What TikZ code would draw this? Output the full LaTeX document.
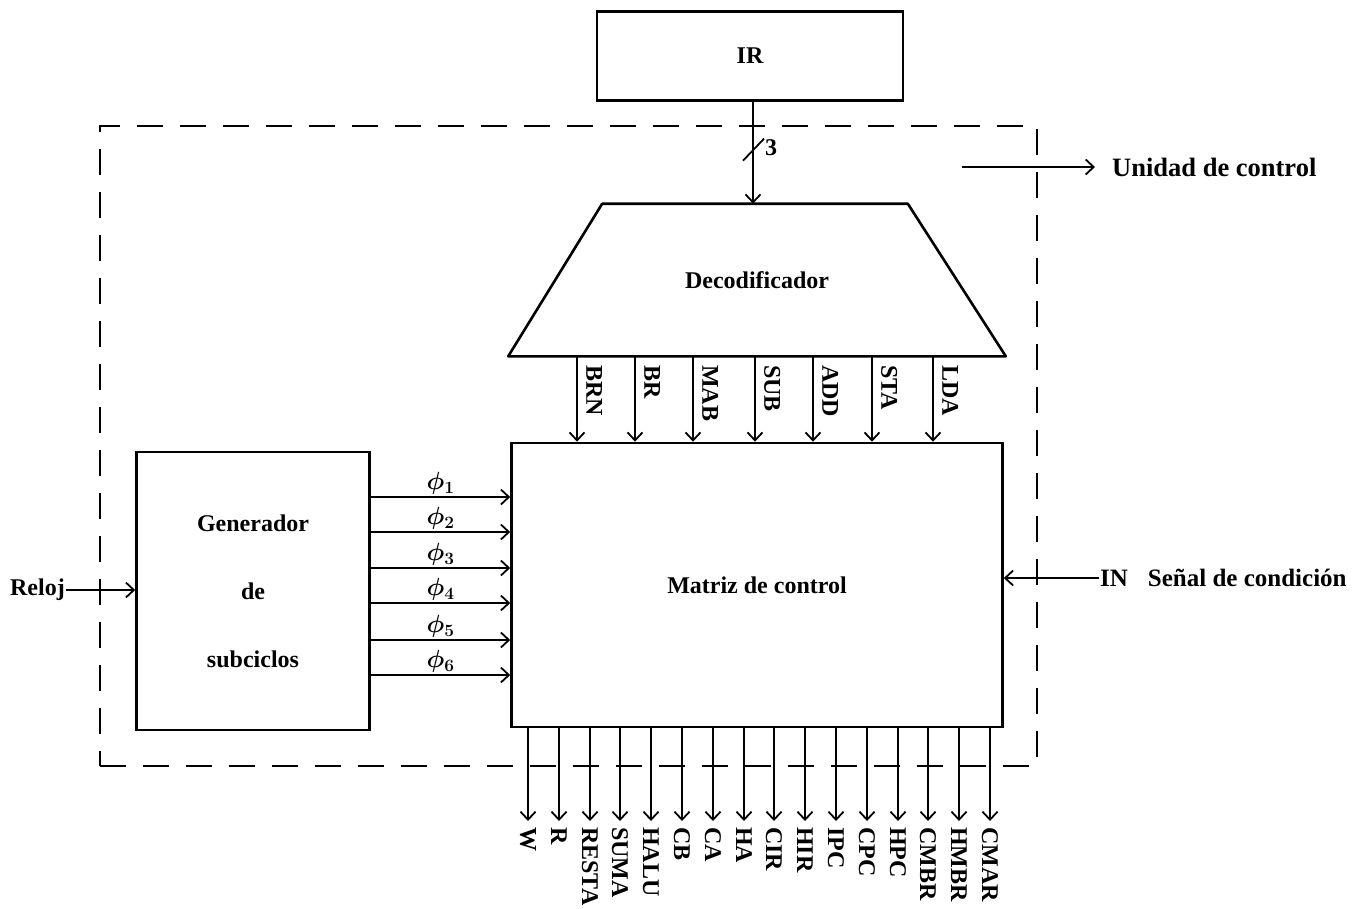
\documentclass[tikz,border=0pt]{standalone}
\usepackage{fontspec}
\setmainfont{Liberation Serif}
\usetikzlibrary{positioning, arrows.meta, shapes.geometric}

\begin{document}
\begin{tikzpicture}[x=1pt, y=-1pt,
    box/.style={rectangle, draw=black, line width=2.6pt, align=center,
        font=\bfseries\fontsize{24}{28}\selectfont},
    lab/.style={font=\bfseries\boldmath\fontsize{24}{28}\selectfont, inner sep=1pt},
    arrow/.style={-{Straight Barb[length=8pt, width=15pt]}, line width=1.8pt},
    border/.style={draw=black, line width=2pt, dash pattern=on 26pt off 17pt}]
\useasboundingbox (0,0) rectangle (1354,908);
\node[border, minimum width=937pt, minimum height=640pt] (cu) at (568,446) {};
\node[box, minimum width=306pt, minimum height=89pt] (ir) at (750,56) {IR};
\node[box, draw=none, minimum width=495pt, minimum height=150pt] (dec) at (757,280) {Decodificador};
\draw[line width=2.6pt, line join=round] (dec.south west) -- (dec.south east)
    -- ([xshift=-98pt]dec.north east) -- ([xshift=94pt]dec.north west) -- cycle;
\node[box, minimum width=491pt, minimum height=284pt] (mat) at (757,585) {Matriz de control};
\node[box, minimum width=233pt, minimum height=278pt] (gen) at (253,591) {Generador\\[40pt]de\\[40pt]subciclos};
% bus from IR
\draw[arrow] (ir.south -| 753,0) -- coordinate[pos=0.47] (bus) (dec.north -| 753,0);
\draw[line width=1.8pt] (bus) ++(-10,11) -- ++(21,-22);
\node[lab, anchor=west] (width) at ([xshift=11pt, yshift=2pt]bus) {3};
\node[lab, font=\bfseries\fontsize{26.5}{30}\selectfont, anchor=west] (ucl) at (1111,167) {Unidad de control};
\coordinate (ucs) at (962,167);
\draw[arrow] (ucs) -- ([xshift=-16pt]ucl.west);
% decoder outputs
\foreach \x/\sig in {577/BRN, 635/BR, 693/MAB, 755/SUB, 813/ADD, 872/STA, 933/LDA} {
  \draw[arrow] (dec.south -| \x,0) -- (mat.north -| \x,0);
  \node[lab, rotate=-90, anchor=south west] (d-\sig) at (\x+8,364) {\sig};
}
% subcycles
\foreach \y [count=\i] in {497,532,568,603,640,675} {
  \draw[arrow] (gen.east |- 0,\y) -- node[lab, above=1pt] (phi\i) {$\phi_{\i}$} (mat.west |- 0,\y);
}
\node[lab, anchor=east] (clk) at (66,590) {Reloj};
\draw[arrow] (clk.east) -- (gen.west |- clk.east);
\node[lab, font=\bfseries\fontsize{25}{29}\selectfont, anchor=west] (cond) at (1099,578) {IN\hspace{0.8em}Señal de condición};
\draw[arrow] (cond.west) -- (mat.east |- cond.west);
% control signals
\foreach \sig [count=\i from 0] in {W, R, RESTA, SUMA, HALU, CB, CA, HA, CIR, HIR, IPC, CPC, HPC, CMBR, HMBR, CMAR} {
  \pgfmathsetmacro{\xo}{round(528+30.8*\i)}
  \node[lab, rotate=-90, anchor=west] (o-\sig) at (\xo,826) {\sig};
  \draw[arrow, shorten >=5pt] (mat.south -| o-\sig.west) -- (o-\sig.west);
}
\end{tikzpicture}
\end{document}
